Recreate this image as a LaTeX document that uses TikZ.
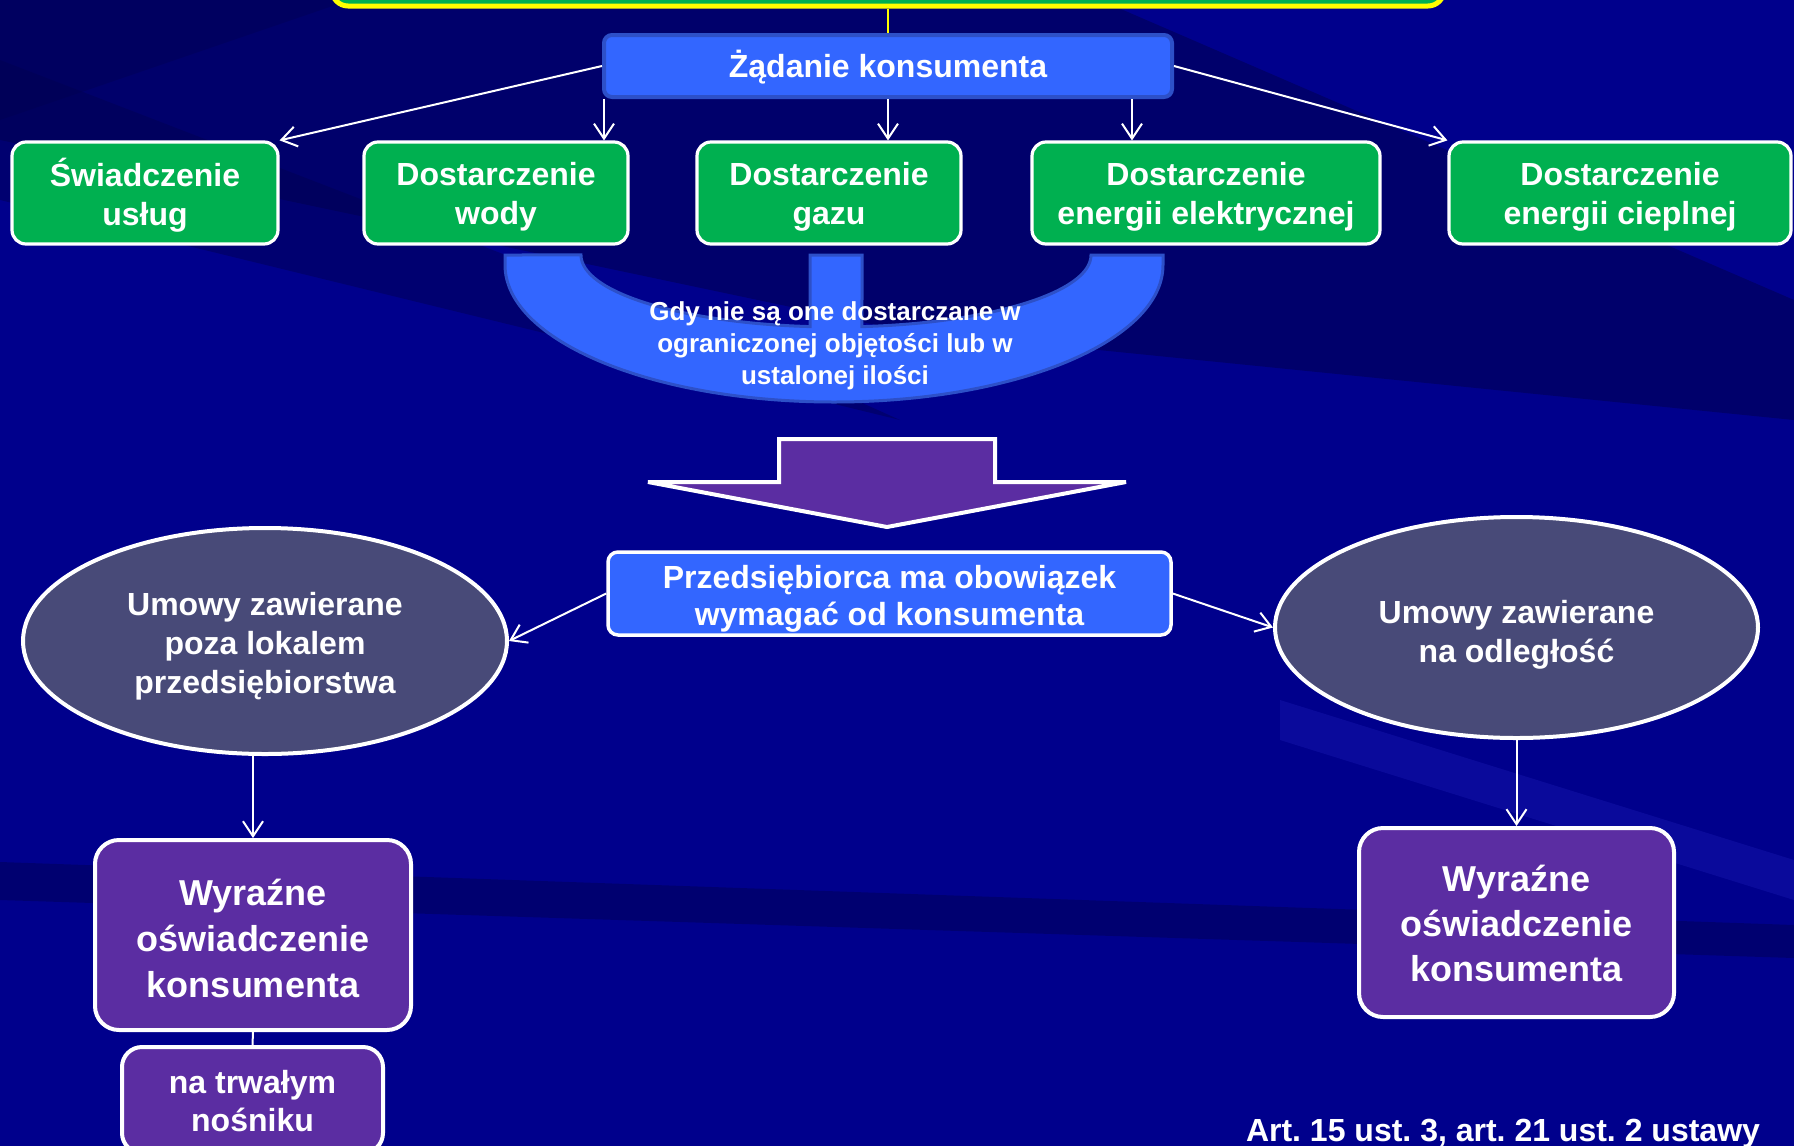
\documentclass[tikz,border=0pt]{standalone}
\usepackage{fontspec}
\setmainfont{Liberation Sans}
\usetikzlibrary{arrows.meta,shapes.geometric}
\frenchspacing
\definecolor{bgc}{RGB}{0,0,140}
\definecolor{bgdark}{RGB}{0,0,80}
\definecolor{bglight}{RGB}{40,40,200}
\definecolor{greenc}{RGB}{0,176,80}
\definecolor{bluec}{RGB}{51,102,255}
\definecolor{blueb}{RGB}{45,80,200}
\definecolor{purplec}{RGB}{91,45,162}
\definecolor{slatec}{RGB}{72,74,120}
\definecolor{yell}{RGB}{255,255,0}
% multi-line text, lowered by #1 while keeping its box size
\newcommand\mlines[2][2.3pt]{\raisebox{-#1}[\height][\depth]{\begin{tabular}{@{}c@{}}#2\end{tabular}}}
\tikzset{
  txt16/.style={text=white, font=\bfseries\fontsize{16}{19.5}\selectfont},
  greenbox/.style={rectangle, rounded corners=7pt, fill=greenc, draw=white, line width=1.6pt,
    inner sep=0pt, minimum height=51pt, txt16},
  bluebox/.style={rectangle, fill=bluec, inner sep=0pt, txt16},
  oval/.style={ellipse, fill=slatec, draw=white, line width=2pt, inner sep=0pt, txt16},
  purplebox/.style={rectangle, rounded corners=12pt, fill=purplec, draw=white, line width=2pt, inner sep=0pt},
  arr/.style={draw=white, line width=1pt, -{Straight Barb[length=7.5pt,width=10pt,line width=1pt]}},
  plainline/.style={draw=white, line width=1pt},
}
\begin{document}
\begin{tikzpicture}[x=0.5pt,y=-0.5pt]
\useasboundingbox (0,0) rectangle (1794,1146);
\clip (0,0) rectangle (1794,1146);
% background
\fill[bgc] (0,0) rectangle (1794,1146);
\fill[bgdark, opacity=0.55] (0,0) -- (1100,0) -- (1794,300) -- (1794,420) -- (900,330) -- (0,140) -- cycle;
\fill[bgdark, opacity=0.45] (0,60) -- (700,330) -- (900,420) -- (0,200) -- cycle;
\fill[bgdark, opacity=0.4] (0,0) -- (350,0) -- (0,120) -- cycle;
\fill[bgdark, opacity=0.45] (0,862) -- (1794,925) -- (1794,958) -- (0,900) -- cycle;
\fill[bglight, opacity=0.25] (1280,700) -- (1794,860) -- (1794,900) -- (1280,740) -- cycle;

% top box (cut off)
\node[rectangle, rounded corners=8pt, fill=greenc, draw=yell, line width=2.5pt,
      minimum width=556pt, minimum height=40pt, inner sep=0pt] (top) at (888,-34) {};

% request box
\node[bluebox, draw=blueb, line width=2pt, rounded corners=4pt,
      minimum width=284pt, minimum height=31pt] (Z) at (888,66) {\mlines[1.8pt]{Żądanie konsumenta}};
\draw[yell, line width=1pt] (top.south) -- (Z.north);

% green boxes
\node[greenbox, minimum width=133pt] (S1) at (145,193) {\mlines{Świadczenie\\usług}};
\node[greenbox, minimum width=132pt] (S2) at (496,193) {\mlines{Dostarczenie\\wody}};
\node[greenbox, minimum width=132pt] (S3) at (829,193) {\mlines{Dostarczenie\\gazu}};
\node[greenbox, minimum width=174pt] (S4) at (1206,193) {\mlines{Dostarczenie\\energii elektrycznej}};
\node[greenbox, minimum width=171pt] (S5) at (1620,193) {\mlines{Dostarczenie\\energii cieplnej}};

\draw[arr] (Z.west) -- (S1.north east);
\draw[arr] (Z.east) -- (S5.north west);
\draw[arr] ([xshift=1pt]Z.south west) -- ([xshift=1pt]Z.south west |- S2.north);
\draw[arr] (Z.south) -- (Z.south |- S3.north);
\draw[arr] ([xshift=-21pt]Z.south east) -- ([xshift=-21pt]Z.south east |- S4.north);

% curved collecting shape
\filldraw[fill=bluec, draw=blueb, line width=1.5pt]
  (505,255) -- (505,265) arc[start angle=180, end angle=0, x radius=329, y radius=137]
  -- (1163,255) -- (1091,255) arc[start angle=0, end angle=84.15, x radius=255, y radius=72]
  -- (862,255) -- (810,255) -- (810,326.6)
  arc[start angle=95.85, end angle=180, x radius=255, y radius=72] -- cycle;
\node[text=white, font=\bfseries\fontsize{13}{16}\selectfont] (G) at (835,343)
  {\mlines[1.7pt]{Gdy nie są one dostarczane w\\ograniczonej objętości lub w\\ustalonej ilości}};

% big down arrow
\filldraw[fill=purplec, draw=white, line width=2pt]
  (779,439) -- (995,439) -- (995,482) -- (1126,482) -- (887,527) -- (648,482) -- (779,482) -- cycle;

% obligation box
\node[bluebox, draw=white, line width=1.75pt, rounded corners=5pt,
      minimum width=281.5pt, minimum height=41.5pt, font=\bfseries\fontsize{16}{18.5}\selectfont]
  (P) at (889.5,593.5) {\mlines[2.8pt]{Przedsiębiorca ma obowiązek\\wymagać od konsumenta}};

% ellipses
\node[oval, minimum width=242pt, minimum height=113pt] (E1) at (265,641)
  {\mlines[2.8pt]{Umowy zawierane\\poza lokalem\\przedsiębiorstwa}};
\node[oval, minimum width=241.5pt, minimum height=110.5pt] (E2) at (1516.5,627.5)
  {\mlines[3.9pt]{Umowy zawierane\\na odległość}};
\draw[arr] (P.west) -- (E1.east);
\draw[arr] (P.east) -- (E2.west);

% statement boxes
\node[purplebox, minimum width=158pt, minimum height=95pt, text=white,
      font=\bfseries\fontsize{18}{23}\selectfont] (W1) at (253,935)
  {\mlines[3.4pt]{Wyraźne\\oświadczenie\\konsumenta}};
\node[purplebox, minimum width=157.5pt, minimum height=94.5pt, text=white,
      font=\bfseries\fontsize{18}{22.5}\selectfont] (W2) at (1516.5,922.5)
  {\mlines[2.6pt]{Wyraźne\\oświadczenie\\konsumenta}};
\node[purplebox, rounded corners=10pt, minimum width=130.5pt, minimum height=53pt, txt16,
      font=\bfseries\fontsize{16}{19}\selectfont] (T) at (252.5,1100)
  {\mlines[2.3pt]{na trwałym\\nośniku}};

\draw[arr] (W1.north |- E1.south) -- (W1.north);
\draw[plainline] (W1.south) -- (T.north);
\draw[arr] (E2.south) -- (W2.north);

% legal reference
\node[text=white, font=\bfseries\fontsize{16}{19}\selectfont] (A) at (1503,1134)
  {Art. 15 ust. 3, art. 21 ust. 2 ustawy};
\end{tikzpicture}
\end{document}
